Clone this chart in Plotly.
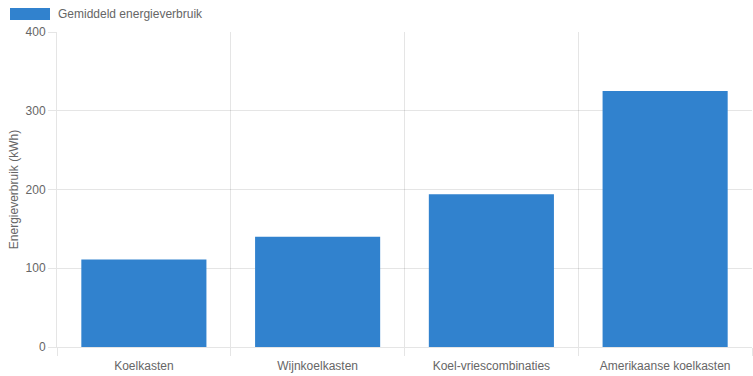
import plotly.graph_objects as go

categories = ["Koelkasten", "Wijnkoelkasten", "Koel-vriescombinaties", "Amerikaanse koelkasten"]
values = [111, 140, 194, 325]
series_name = "Gemiddeld energieverbruik"
y_title = "Energieverbruik (kWh)"
y_ticks = [0, 100, 200, 300, 400]

bar_color = "#3182ce"
grid = "rgba(0,0,0,0.1)"
text_color = "#666666"
font_family = "Liberation Sans, Arial, Helvetica, sans-serif"

x_pos = list(range(len(categories)))
boundaries = [i - 0.5 for i in range(len(categories) + 1)]

fig = go.Figure()
fig.add_trace(go.Bar(x=x_pos, y=values, name=series_name, marker=dict(color=bar_color, line=dict(width=0)),
                     showlegend=False))
# invisible trace to activate the grid axis
fig.add_trace(go.Scatter(x=[boundaries[0], boundaries[-1]], y=[0, 0], xaxis="x2", mode="markers",
                         marker=dict(opacity=0), showlegend=False, hoverinfo="skip"))

W, H = 753, 376
ml, mr, mt, mb = 57, 1, 32, 29
pw, ph = W - ml - mr, H - mt - mb

fig.update_layout(
    width=W, height=H,
    margin=dict(l=ml, r=mr, t=mt, b=mb),
    paper_bgcolor="white", plot_bgcolor="white",
    font=dict(family=font_family, size=12, color=text_color),
    bargap=0.28,
    xaxis=dict(range=[boundaries[0], boundaries[-1]], tickvals=x_pos, ticktext=categories,
               showgrid=False, zeroline=False, ticks="outside", ticklen=8, tickcolor="rgba(0,0,0,0)",
               showline=True, linecolor=grid, linewidth=1,
               tickfont=dict(size=12, color=text_color), fixedrange=True),
    xaxis2=dict(range=[boundaries[0], boundaries[-1]], overlaying="x", tickvals=boundaries,
                showticklabels=False, showgrid=True, gridcolor=grid, gridwidth=1,
                ticks="outside", ticklen=8, tickcolor=grid, zeroline=False, side="bottom",
                anchor="y"),
    yaxis=dict(range=[0, 400], tickvals=y_ticks, showgrid=True, gridcolor=grid, gridwidth=1,
               zeroline=False, showline=True, linecolor=grid, ticks="outside", ticklen=8,
               tickcolor=grid, tickfont=dict(size=12, color=text_color),
               title=dict(text=y_title, font=dict(size=12, color=text_color), standoff=4)),
)

# Chart.js-style legend drawn at top-left
fig.add_shape(type="rect", xref="paper", yref="paper",
              x0=(10 - ml) / pw, x1=(50 - ml) / pw,
              y0=(H - mb - 20) / ph, y1=(H - mb - 8) / ph,
              fillcolor=bar_color, line=dict(width=0))
fig.add_annotation(xref="paper", yref="paper", x=(56 - ml) / pw, y=(H - mb - 14) / ph,
                   text=series_name, showarrow=False, xanchor="left", yanchor="middle",
                   font=dict(size=12, color=text_color))

fig.write_html("out.html")
